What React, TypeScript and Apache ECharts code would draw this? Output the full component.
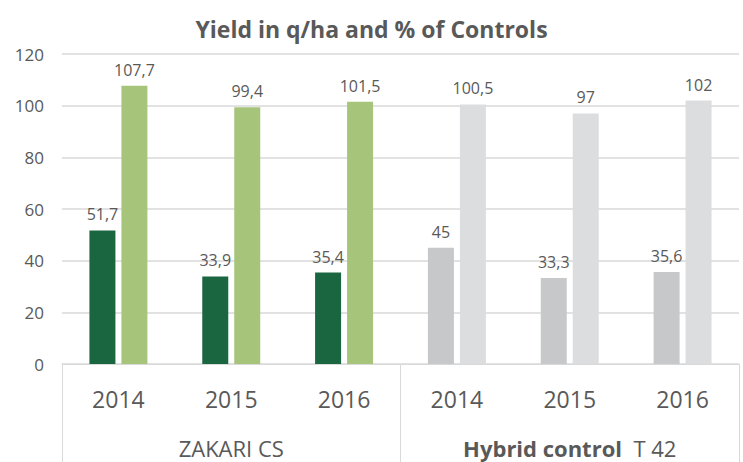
import React, { useEffect, useRef } from "react";
import * as echarts from "echarts";

const years = ["2014", "2015", "2016", "2014", "2015", "2016"];
const groups = ["ZAKARI CS", "Hybrid control"];
const groupSuffix = ["", "T 42"];
const groupOfCategory = [0, 0, 0, 1, 1, 1];
const yieldValues = [51.7, 33.9, 35.4, 45, 33.3, 35.6];
const percentValues = [107.7, 99.4, 101.5, 100.5, 97, 102];
const yieldColors = ["#1a6640", "#c7c8ca"];
const percentColors = ["#a6c57b", "#dcdddf"];
const yTicks = { min: 0, max: 120, interval: 20 };

const FONT = "'Open Sans', 'Liberation Sans', sans-serif";
const TXT = "#595959";

export default function App() {
  const ref = useRef<HTMLDivElement>(null);
  useEffect(() => {
    if (!ref.current) return;
    const chart = echarts.init(ref.current, undefined, { renderer: "svg" });
    const fmt = (p: any) => String(p.value).replace(".", ",");
    chart.setOption({
      animation: false,
      textStyle: { fontFamily: FONT },
      title: {
        text: "Yield in q/ha and % of Controls",
        left: "center",
        top: 12,
        textStyle: { fontFamily: FONT, fontSize: 23, fontWeight: "bold", color: TXT },
      },
      grid: { left: 62, right: 4, top: 54, bottom: 98, containLabel: false },
      xAxis: [
        {
          type: "category",
          data: years,
          position: "bottom",
          axisLine: { show: false },
          axisTick: { show: false },
          axisLabel: { fontFamily: FONT, fontSize: 23, color: TXT, margin: 23, interval: 0 },
        },
        {
          type: "category",
          data: groups,
          position: "bottom",
          offset: 0,
          axisLine: { show: true, lineStyle: { color: "#d9d9d9", width: 1 } },
          axisTick: { show: true, length: 98, interval: 0, lineStyle: { color: "#d9d9d9", width: 1 } },
          axisLabel: {
            margin: 73,
            interval: 0,
            formatter: (v: string, i: number) =>
              i === 0 ? `{n|${v}}` : `{b|${v}}{n|  ${groupSuffix[i]}}`,
            rich: {
              n: { fontFamily: FONT, fontSize: 22, color: TXT },
              b: { fontFamily: FONT, fontSize: 22, color: TXT, fontWeight: "bold" },
            },
          },
        },
      ],
      yAxis: {
        type: "value",
        min: yTicks.min,
        max: yTicks.max,
        interval: yTicks.interval,
        axisLine: { show: false },
        axisTick: { show: false },
        axisLabel: { fontFamily: FONT, fontSize: 17, color: TXT, margin: 18 },
        splitLine: { lineStyle: { color: "#d9d9d9", width: 1.5 } },
      },
      series: [
        {
          type: "bar",
          xAxisIndex: 0,
          barWidth: 26,
          barGap: "23%",
          data: yieldValues.map((v, i) => ({
            value: v,
            itemStyle: { color: yieldColors[groupOfCategory[i]] },
          })),
          label: { show: true, position: "top", distance: 8, formatter: fmt, fontFamily: FONT, fontSize: 16, color: TXT },
        },
        {
          type: "bar",
          xAxisIndex: 0,
          barWidth: 26,
          data: percentValues.map((v, i) => ({
            value: v,
            itemStyle: { color: percentColors[groupOfCategory[i]] },
          })),
          label: { show: true, position: "top", distance: 8, formatter: fmt, fontFamily: FONT, fontSize: 16, color: TXT },
        },
      ],
    });
    return () => chart.dispose();
  }, []);
  return (
    <div
      ref={ref}
      style={{ position: "absolute", left: 0, top: 0, width: 743, height: 462, background: "#fff" }}
    />
  );
}
